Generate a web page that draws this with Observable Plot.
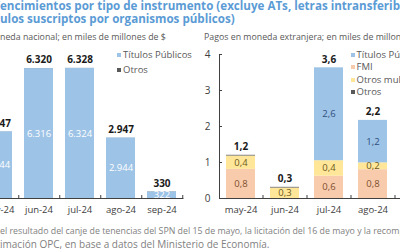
<!DOCTYPE html>
<html><head><meta charset="utf-8">
<script src="https://cdn.jsdelivr.net/npm/d3@7"></script>
<script src="https://cdn.jsdelivr.net/npm/@observablehq/plot@0.6"></script>
<style>
html,body{margin:0;padding:0;background:#fff;}
body{width:400px;height:250px;overflow:hidden;position:relative;font-family:"Open Sans",sans-serif;}
.abs{position:absolute;white-space:nowrap;}
.plotbox svg{max-width:none !important;display:block;}
.title{font-weight:700;font-size:11.6px;line-height:13px;color:#5b9bd5;}
.sub{font-size:8.8px;line-height:11px;color:#595959;}
.leg{font-size:9.5px;line-height:12px;color:#595959;}
.leg div{height:12.3px;}
.leg i{display:inline-block;width:4px;height:4px;margin-right:2px;vertical-align:1px;}
.foot1{font-size:8.8px;line-height:10px;color:#7f7f7f;}
.foot2{font-size:10px;line-height:12px;color:#7f7f7f;}
</style></head><body>
<div id="left" class="abs plotbox" style="left:-44px;top:30px;width:240px"></div>
<div id="right" class="abs plotbox" style="left:189px;top:30px;width:260px"></div>

<div class="abs title" style="top:-1.5px"><span class="cut">V</span>encimientos por tipo de instrumento (excluye ATs, letras intransferibles y</div>
<div class="abs title" style="top:12px"><span class="cut">tít</span>ulos suscriptos por organismos públicos)</div>
<div class="abs sub" style="top:32px"><span class="cut">Pagos en mo</span>neda nacional; en miles de millones de $</div>
<div class="abs sub" style="top:32px;left:204px">Pagos en moneda extranjera; en miles de millones de US$</div>

<div class="abs leg" id="legL" style="left:117px;top:49px"></div>
<div class="abs leg" id="legR" style="left:350.5px;top:49px"></div>

<div class="abs foot1" style="top:226px;left:0px">el resultado del canje de tenencias del SPN del 15 de mayo, la licitación del 16 de mayo y la recompra</div>
<div class="abs foot2" style="top:237.5px"><span class="cut">Fuente: est</span>imación OPC, en base a datos del Ministerio de Economía.</div>

<script>
// ---- data ----
const meses = ["may-24", "jun-24", "jul-24", "ago-24", "sep-24"];
// Pagos en moneda nacional (miles de millones de $)
const mnTitulos = [3244, 6316, 6324, 2944, 322];
const mnOtros = [3, 4, 4, 3, 8];
// Pagos en moneda extranjera (miles de millones de US$)
const meMeses = ["may-24", "jun-24", "jul-24", "ago-24"];
const meFMI = [0.81, 0, 0.62, 0.80];
const meOtrosMult = [0.37, 0.29, 0.43, 0.19];
const meTitulos = [0, 0, 2.58, 1.18];
const meOtros = [0.02, 0.02, 0, 0];
const yTicksME = [0, 1, 2, 3, 4];

const colors = {"Títulos Públicos": "#9dc3e6", "FMI": "#f8cbad", "Otros multilaterales": "#ffe699", "Otros": "#595959"};
const labelColors = {"Títulos Públicos": "#2f4f80", "FMI": "#80502f", "Otros multilaterales": "#6b5a1e"};

const loc = d3.formatLocale({decimal: ",", thousands: ".", grouping: [3], currency: ["$", ""]});
const fmtMN = loc.format(",");
const fmtME = loc.format(".1f");
const fmtInt = loc.format("d");

const font = '"Open Sans",sans-serif';
const axisColor = "#404040";

// ---- left panel ----
const mnRows = [];
meses.forEach((m, i) => mnRows.push({mes: m, serie: "Títulos Públicos", v: mnTitulos[i]}));
meses.forEach((m, i) => mnRows.push({mes: m, serie: "Otros", v: mnOtros[i]}));
const mnTot = meses.map((m, i) => ({mes: m, v: mnTitulos[i] + mnOtros[i]}));

const Lw = 240, Lml = 20, Lmr = 12.5;
const Lhalf = (Lw - Lml - Lmr) / meses.length / 2;
const leftPlot = Plot.plot({
  width: Lw, height: 193, marginLeft: Lml, marginRight: Lmr, marginTop: 24, marginBottom: 25,
  style: {fontFamily: font, fontSize: "9.5px", color: axisColor, background: "transparent", overflow: "visible"},
  x: {domain: meses, paddingInner: 0.3, paddingOuter: 0.15, label: null},
  y: {domain: [0, 7000], axis: null},
  color: {type: "identity"},
  marks: [
    Plot.barY(mnRows, {x: "mes", y: "v", z: "serie", fill: d => colors[d.serie]}),
    Plot.text(mnRows, Plot.stackY({x: "mes", y: "v", z: "serie",
      text: d => d.serie === "Títulos Públicos" ? fmtMN(d.v) : null, fill: "white", fontSize: 9.5})),
    Plot.text(mnTot, {x: "mes", y: "v", text: d => fmtMN(d.v), dy: -5, lineAnchor: "bottom",
      fontWeight: "bold", fontSize: 10, fill: "#1a1a1a"}),
    Plot.ruleY([0], {stroke: axisColor}),
    Plot.axisX({tickSize: 3, dx: Lhalf, dy: -3, tickFormat: () => "", stroke: axisColor}),
    Plot.axisX({tickSize: 0, tickPadding: 8, label: null})
  ]
});
document.getElementById("left").appendChild(leftPlot);

// ---- right panel ----
const order = ["FMI", "Otros multilaterales", "Títulos Públicos", "Otros"];
const series = {"FMI": meFMI, "Otros multilaterales": meOtrosMult, "Títulos Públicos": meTitulos, "Otros": meOtros};
const meRows = [];
order.forEach(s => meMeses.forEach((m, i) => meRows.push({mes: m, serie: s, v: series[s][i]})));
const meTot = meMeses.map((m, i) => ({mes: m, v: meFMI[i] + meOtrosMult[i] + meTitulos[i] + meOtros[i]}));

const Rw = 260, Rml = 30, Rmr = 10;
const Rhalf = (Rw - Rml - Rmr) / meses.length / 2;
const rightPlot = Plot.plot({
  width: Rw, height: 193, marginLeft: Rml, marginRight: Rmr, marginTop: 24, marginBottom: 25,
  style: {fontFamily: font, fontSize: "9.5px", color: axisColor, background: "transparent", overflow: "visible"},
  x: {domain: meses, paddingInner: 0.34, paddingOuter: 0.17, label: null},
  y: {domain: [0, 4], label: null},
  color: {type: "identity"},
  marks: [
    Plot.barY(meRows, {x: "mes", y: "v", z: "serie", order, fill: d => colors[d.serie]}),
    Plot.text(meRows, Plot.stackY({x: "mes", y: "v", z: "serie", order,
      text: d => (d.serie !== "Otros" && d.v >= 0.05) ? fmtME(d.v) : null,
      fill: d => labelColors[d.serie] || "#333", fontSize: 9.5})),
    Plot.text(meTot, {x: "mes", y: "v", text: d => fmtME(d.v), dy: -5, lineAnchor: "bottom",
      fontWeight: "bold", fontSize: 10, fill: "#1a1a1a"}),
    Plot.ruleY([0], {stroke: axisColor}),
    Plot.frame({anchor: "left", stroke: axisColor}),
    Plot.axisY({ticks: yTicksME, tickSize: 3, dx: 3, tickFormat: () => "", stroke: axisColor}),
    Plot.axisY({ticks: yTicksME, tickSize: 0, tickPadding: 9, tickFormat: fmtInt, label: null, fontSize: 10}),
    Plot.axisX({tickSize: 3, dx: Rhalf, dy: -3, tickFormat: () => "", stroke: axisColor}),
    Plot.axisX({tickSize: 0, tickPadding: 8, label: null})
  ]
});
document.getElementById("right").appendChild(rightPlot);

// ---- legends ----
function legend(id, names) {
  const el = document.getElementById(id);
  names.forEach(n => {
    const row = document.createElement("div");
    const sw = document.createElement("i");
    sw.style.background = colors[n];
    row.appendChild(sw);
    row.appendChild(document.createTextNode(n));
    el.appendChild(row);
  });
}
legend("legL", ["Títulos Públicos", "Otros"]);
document.querySelector("#legL div").style.height = "15px";
legend("legR", ["Títulos Públicos", "FMI", "Otros multilaterales", "Otros"]);

// clipped starts of lines (the reference is cropped on the left)
document.querySelectorAll(".cut").forEach(s => {
  s.parentElement.style.left = (-s.getBoundingClientRect().width) + "px";
});
</script>
</body></html>
